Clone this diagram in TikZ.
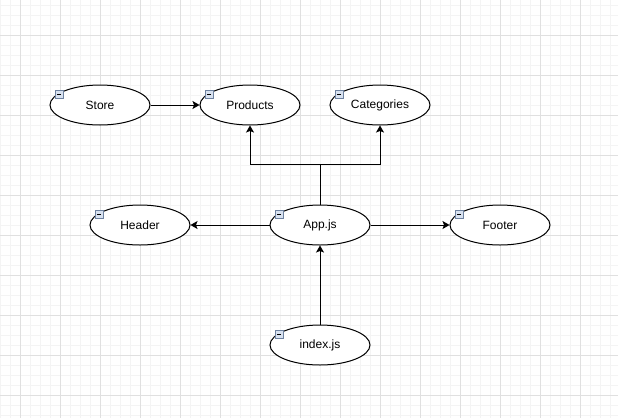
\documentclass[tikz,border=0pt]{standalone}
\usepackage{fontspec}
\setmainfont{Liberation Sans}
\usetikzlibrary{shapes.geometric,arrows.meta,calc}
\definecolor{gridminor}{RGB}{244,244,244}
\definecolor{gridmajor}{RGB}{224,224,224}
\definecolor{iconfill}{RGB}{215,225,240}
\definecolor{iconborder}{RGB}{110,130,160}
\tikzset{
  ent/.style={ellipse, draw=black, line width=1pt, fill=white, minimum width=100pt, minimum height=40pt, inner sep=0pt, font=\fontsize{12}{14}\selectfont},
  icon/.style={rectangle, draw=iconborder, fill=iconfill, line width=0.7pt, minimum size=8pt, inner sep=0pt,
    path picture={\draw[black, line width=0.9pt] ([xshift=1.8pt]path picture bounding box.west) -- ([xshift=-1.8pt]path picture bounding box.east);}},
  conn/.style={line width=1pt, -{Stealth[length=7pt,width=8pt,inset=1.5pt]}},
}
\begin{document}
\begin{tikzpicture}[x=1pt,y=-1pt]
\useasboundingbox (0,0) rectangle (618,418);
\fill[white] (0,0) rectangle (618,418);
% grid
\foreach \x in {0,10,...,610} \draw[gridminor, line width=0.8pt] (\x,0) -- (\x,418);
\foreach \y in {5,15,...,415} \draw[gridminor, line width=0.8pt] (0,\y) -- (618,\y);
\foreach \x in {20,60,...,580} \draw[gridmajor, line width=0.8pt] (\x,0) -- (\x,418);
\foreach \y in {35,75,...,395} \draw[gridmajor, line width=0.8pt] (0,\y) -- (618,\y);

% nodes
\node[ent] (store) at (100,105) {Store};
\node[ent] (products) at (250,105) {Products};
\node[ent] (categories) at (380,105) {Categories};
\node[ent] (header) at (140,225) {Header};
\node[ent] (app) at (320,225) {App.js};
\node[ent] (footer) at (500,225) {Footer};
\node[ent] (index) at (320,345) {index.js};

% collapse icons
\foreach \n in {store,products,categories,header,app,footer,index}
  \node[icon] (\n-icon) at ($(\n.center)+(-41,-10.5)$) {};

% connectors
\draw[conn] (store) -- (products);
\draw[conn] (app.north) -- ++(0,-40) coordinate (split) -| (products.south);
\draw[conn] (split) -| (categories.south);
\draw[conn] (app) -- (header);
\draw[conn] (app) -- (footer);
\draw[conn] (index) -- (app);
\end{tikzpicture}
\end{document}
